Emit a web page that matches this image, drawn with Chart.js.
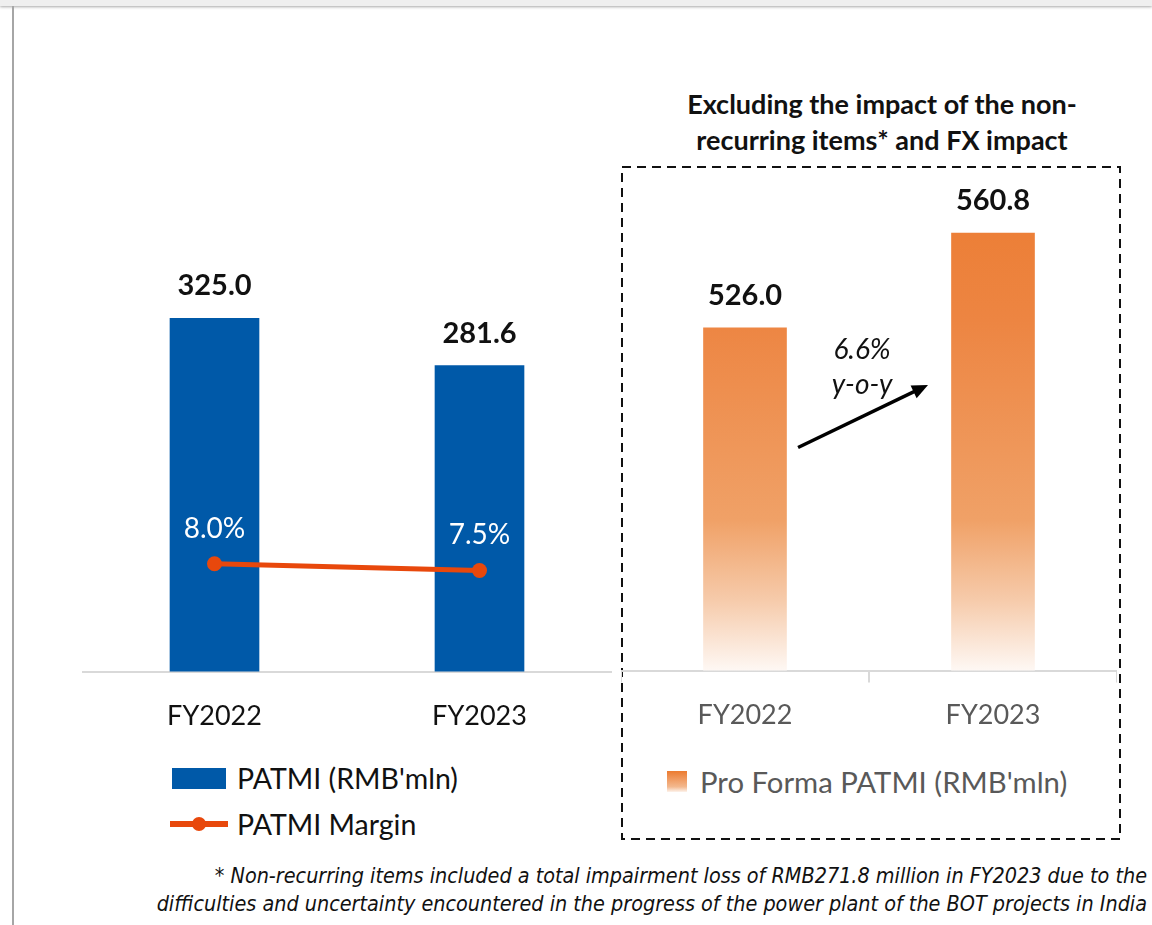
<!DOCTYPE html>
<html lang="en">
<head>
<meta charset="UTF-8">
<title>PATMI</title>
<script src="https://cdn.jsdelivr.net/npm/chart.js"></script>
<style>
  body { margin: 0; width: 1152px; height: 925px; position: relative; overflow: hidden; background: #fff; font-family: Lato, 'Open Sans', sans-serif; color: #111; }
  #topbar { position: absolute; left: 0; top: 0; width: 1152px; height: 6px; background: #efefef; box-shadow: 0 1px 3px rgba(0,0,0,0.35); }
  #sideline { position: absolute; left: 12px; top: 6px; width: 2px; height: 919px; background: #a6a6a6; }
  #left-wrap { position: absolute; left: 82px; top: 150px; width: 530px; height: 610px; }
  #right-wrap { position: absolute; left: 621px; top: 170px; width: 496px; height: 577px; }
  #box { position: absolute; left: 0; top: 0; }
  #title { position: absolute; left: 622px; top: 86px; width: 520px; text-align: center; font-weight: bold; font-size: 27px; line-height: 36px; }
  .leg { position: absolute; font-size: 28.5px; line-height: 32px; white-space: nowrap; }
  .sw { position: absolute; }
  #note { position: absolute; right: 5px; top: 862px; text-align: right; font-family: 'Liberation Sans Narrow', 'DejaVu Sans Condensed', sans-serif; font-style: italic; font-size: 21.4px; line-height: 28px; white-space: nowrap; }
</style>
</head>
<body>
<div id="topbar"></div>
<div id="sideline"></div>
<svg id="box" width="1152" height="925">
  <rect x="622" y="167" width="498" height="672" fill="none" stroke="#111" stroke-width="2" stroke-dasharray="9 6"></rect>
</svg>
<div id="title">Excluding the impact of the non-<br>recurring items* and FX impact</div>
<div id="left-wrap"><canvas id="left-chart"></canvas></div>
<div id="right-wrap"><canvas id="right-chart"></canvas></div>

<div class="sw" style="left:172px;top:768px;width:54px;height:21px;background:#0059a8"></div>
<div class="leg" id="leg1" style="left:237px;top:762px"></div>
<div class="sw" style="left:170px;top:821px;width:58px;height:6px;background:#e8480c"></div>
<div class="sw" style="left:192px;top:817px;width:14px;height:14px;border-radius:50%;background:#e8480c"></div>
<div class="leg" id="leg2" style="left:237px;top:808px"></div>
<div class="sw" style="left:667px;top:771px;width:20px;height:21px;background:linear-gradient(#ec7b30,#f3b88e 75%,#fdf3ec)"></div>
<div class="leg" id="leg3" style="left:700px;top:766px;color:#595959;font-size:29.3px"></div>

<div id="note">* Non-recurring items included a total impairment loss of RMB271.8 million in FY2023 due to the<br>difficulties and uncertainty encountered in the progress of the power plant of the BOT projects in India</div>

<script>
const years = ['FY2022', 'FY2023'];
const patmi = [325.0, 281.6];
const patmiMargin = [8.0, 7.5];
const proForma = [526.0, 560.8];
const growthText = ['6.6%', 'y-o-y'];
const seriesNames = ["PATMI (RMB'mln)", 'PATMI Margin', "Pro Forma PATMI (RMB'mln)"];

document.getElementById('leg1').textContent = seriesNames[0];
document.getElementById('leg2').textContent = seriesNames[1];
document.getElementById('leg3').textContent = seriesNames[2];

Chart.defaults.font.family = 'Lato, "Open Sans", sans-serif';
Chart.defaults.animation = false;

// value labels above bars and above line points
const valueLabels = {
    id: 'valueLabels',
    afterDatasetsDraw(chart) {
        const c = chart.ctx;
        c.save();
        c.textAlign = 'center';
        c.textBaseline = 'alphabetic';
        chart.data.datasets.forEach((ds, i) => {
            const meta = chart.getDatasetMeta(i);
            meta.data.forEach((el, j) => {
                if (ds.type === 'line') {
                    c.fillStyle = '#fff';
                    c.font = '28px Lato, "Open Sans", sans-serif';
                    c.fillText(ds.data[j].toFixed(1) + '%', el.x, el.y - 26);
                } else {
                    c.fillStyle = '#111';
                    c.font = 'bold 29px Lato, "Open Sans", sans-serif';
                    c.fillText(ds.data[j].toFixed(1), el.x, el.y - 23);
                }
            });
        });
        c.restore();
    }
};

// arrow with y-o-y growth between the two pro forma bars
const growthArrow = {
    id: 'growthArrow',
    afterDatasetsDraw(chart) {
        const c = chart.ctx;
        const bars = chart.getDatasetMeta(0).data;
        const d = bars[1].x - bars[0].x;
        const y = chart.scales.y;
        const x0 = bars[0].x + d * 0.214, y0 = y.getPixelForValue(482);
        const x1 = bars[0].x + d * 0.738, y1 = y.getPixelForValue(505);
        c.save();
        c.strokeStyle = '#000';
        c.fillStyle = '#000';
        c.lineWidth = 3.5;
        const ang = Math.atan2(y1 - y0, x1 - x0);
        c.beginPath();
        c.moveTo(x0, y0);
        c.lineTo(x1 - 8 * Math.cos(ang), y1 - 8 * Math.sin(ang));
        c.stroke();
        c.beginPath();
        c.moveTo(x1, y1);
        c.lineTo(x1 - 16 * Math.cos(ang) + 7 * Math.sin(ang), y1 - 16 * Math.sin(ang) - 7 * Math.cos(ang));
        c.lineTo(x1 - 16 * Math.cos(ang) - 7 * Math.sin(ang), y1 - 16 * Math.sin(ang) + 7 * Math.cos(ang));
        c.closePath();
        c.fill();
        c.fillStyle = '#111';
        c.font = 'italic 28px Lato, "Open Sans", sans-serif';
        c.textAlign = 'center';
        c.textBaseline = 'middle';
        const tx = bars[0].x + d * 0.472;
        c.fillText(growthText[0], tx, y.getPixelForValue(518));
        c.fillText(growthText[1], tx, y.getPixelForValue(505));
        c.restore();
    }
};

new Chart(document.getElementById('left-chart'), {
    type: 'bar',
    data: {
        labels: years,
        datasets: [
            {
                type: 'line',
                label: seriesNames[1],
                data: patmiMargin,
                yAxisID: 'y1',
                borderColor: '#e8480c',
                backgroundColor: '#e8480c',
                borderWidth: 5,
                pointRadius: 7.5,
                pointBorderWidth: 0,
                order: 0
            },
            {
                label: seriesNames[0],
                data: patmi,
                yAxisID: 'y',
                backgroundColor: '#0059a8',
                barThickness: 89,
                order: 1
            }
        ]
    },
    options: {
        responsive: true,
        maintainAspectRatio: false,
        layout: { padding: 0, autoPadding: false },
        plugins: { legend: { display: false }, tooltip: { enabled: false } },
        scales: {
            x: {
                offset: true,
                grid: { display: false, drawTicks: false },
                border: { display: true, color: '#d9d9d9', width: 2 },
                ticks: { color: '#111', padding: 28, font: { size: 27 } }
            },
            y: { display: false, min: 0, max: 480 },
            y1: { display: false, min: 0, max: 38.67 }
        }
    },
    plugins: [valueLabels]
});

new Chart(document.getElementById('right-chart'), {
    type: 'bar',
    data: {
        labels: years,
        datasets: [{
            label: seriesNames[2],
            data: proForma,
            barThickness: 83,
            backgroundColor: (ctx) => {
                const area = ctx.chart.chartArea;
                if (!area) return '#ed7d31';
                const g = ctx.chart.ctx.createLinearGradient(0, area.top, 0, area.bottom);
                g.addColorStop(0, '#ec7b30');
                g.addColorStop(0.3, '#ed8542');
                g.addColorStop(0.7, '#f0a167');
                g.addColorStop(0.86, '#f6cbab');
                g.addColorStop(1, '#fef8f4');
                return g;
            }
        }]
    },
    options: {
        responsive: true,
        maintainAspectRatio: false,
        layout: { padding: 0, autoPadding: false },
        plugins: { legend: { display: false }, tooltip: { enabled: false } },
        scales: {
            x: {
                offset: true,
                grid: { display: true, drawOnChartArea: false, offset: true, tickLength: 12, color: '#d9d9d9', lineWidth: 2 },
                border: { display: true, color: '#d9d9d9', width: 2 },
                ticks: { color: '#595959', padding: 16, font: { size: 27 } }
            },
            y: { display: false, min: 400, max: 584 }
        }
    },
    plugins: [valueLabels, growthArrow]
});
</script>
</body>
</html>
